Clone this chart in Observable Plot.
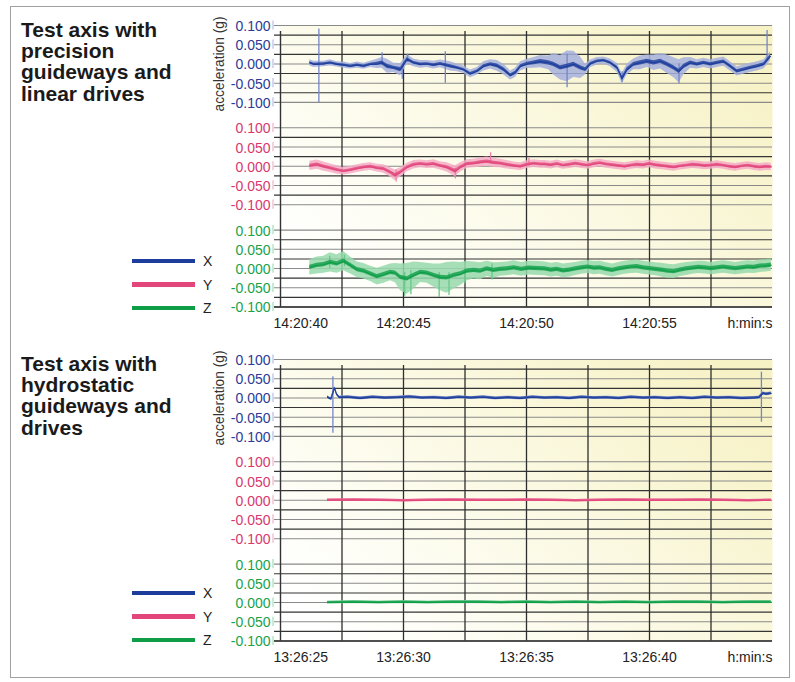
<!DOCTYPE html>
<html>
<head>
<meta charset="utf-8">
<script src="https://cdn.jsdelivr.net/npm/d3@7"></script>
<script src="https://cdn.jsdelivr.net/npm/@observablehq/plot@0.6"></script>
<style>
  body { margin: 0; background: #fff; font-family: "Liberation Sans", Arial, Helvetica, sans-serif; }
  #root { position: relative; width: 795px; height: 682px; overflow: hidden; background: #fff; }
  .outer { position: absolute; left: 10px; top: 6px; width: 780px; height: 672px; border: 1px solid #a0a0a0; box-sizing: border-box; }
  .title { position: absolute; left: 21px; font-weight: bold; font-size: 21px; line-height: 21.3px; color: #1a1a1a; white-space: nowrap; }
  .panel { position: absolute; left: 0; }
  .swatch { position: absolute; left: 132px; width: 63px; height: 4.3px; }
  .leglab { position: absolute; left: 203px; font-size: 14px; color: #222; line-height: 14px; }
</style>
</head>
<body>
<div id="root"><div class="outer"></div></div>
<script>
// ---------- labels & styling data ----------
const seriesNames = ["X", "Y", "Z"];
const darkColors = ["#1c3d9b", "#e2467b", "#0f9e48"];
const lightColors = ["#a6b0dd", "#f4abc5", "#97d9ac"];
const spikeColors = ["#7486ca", "#ec7fa6", "#66c888"];
const labelColors = ["#2b3b96", "#d8386e", "#18a24a"];
const labelLight = ["#b7bfe3", "#f1b3c8", "#a5dcb6"];
const yTicks = [0.1, 0.05, 0, -0.05, -0.1];
const yGrid = [0.1, 0.075, 0.05, 0.025, 0, -0.025, -0.05, -0.075, -0.1];
const xGrid = [2.5, 5, 7.5, 10, 12.5, 15, 17.5];
const timeLabelSeconds = [0, 5, 10, 15];
const topTimeLabels = ["14:20:40", "14:20:45", "14:20:50", "14:20:55"];
const bottomTimeLabels = ["13:26:25", "13:26:30", "13:26:35", "13:26:40"];
const unitLabel = "h:min:s";
const yAxisLabel = "acceleration (g)";
const topTitle = ["Test axis with", "precision", "guideways and", "linear drives"];
const bottomTitle = ["Test axis with", "hydrostatic", "guideways and", "drives"];

// ---------- series: [seconds after first label, mean (g), noise half-width (g)] ----------
const topX = [
  [1.19,0.003,0.008],[1.36,-0.001,0.008],[1.76,0.000,0.007],[2.03,0.003,0.008],[2.30,-0.001,0.007],
  [2.57,-0.003,0.008],[2.85,-0.006,0.007],[3.12,-0.003,0.008],[3.39,-0.006,0.008],[3.66,-0.001,0.008],
  [3.93,0.000,0.012],[4.13,0.003,0.014],[4.34,-0.006,0.018],[4.61,-0.010,0.012],[4.88,-0.015,0.016],
  [5.15,0.012,0.012],[5.42,0.003,0.010],[5.69,-0.001,0.010],[5.96,0.000,0.009],[6.23,-0.003,0.010],
  [6.50,0.000,0.010],[6.91,-0.006,0.012],[7.18,-0.010,0.010],[7.45,-0.015,0.010],[7.72,-0.026,0.010],
  [8.00,-0.019,0.010],[8.26,-0.006,0.012],[8.54,-0.001,0.012],[8.81,-0.005,0.014],[9.08,-0.015,0.014],
  [9.35,-0.030,0.012],[9.55,-0.023,0.012],[9.76,-0.006,0.012],[10.03,0.000,0.012],[10.30,0.003,0.014],
  [10.57,0.006,0.016],[10.90,0.003,0.018],[11.10,-0.001,0.028],[11.38,-0.010,0.032],[11.65,-0.006,0.040],
  [11.92,-0.001,0.034],[12.20,-0.010,0.028],[12.40,-0.015,0.014],[12.60,0.000,0.010],[12.87,0.007,0.010],
  [13.14,0.009,0.009],[13.41,0.003,0.010],[13.69,-0.010,0.012],[13.89,-0.038,0.014],[14.09,-0.015,0.014],
  [14.36,-0.001,0.014],[14.63,0.003,0.018],[14.90,0.007,0.016],[15.18,0.003,0.020],[15.45,0.007,0.020],
  [15.72,-0.001,0.024],[15.99,-0.010,0.026],[16.20,-0.019,0.030],[16.40,-0.006,0.022],[16.67,0.003,0.014],
  [16.94,-0.001,0.012],[17.21,0.003,0.012],[17.48,-0.001,0.012],[17.75,0.003,0.012],[18.02,0.006,0.012],
  [18.29,-0.006,0.012],[18.56,-0.019,0.012],[18.83,-0.015,0.012],[19.10,-0.010,0.012],[19.38,-0.006,0.012],
  [19.65,-0.001,0.012],[19.92,0.020,0.012]
];
const topY = [
  [1.19,0.001,0.012],[1.49,0.004,0.012],[1.76,-0.001,0.012],[2.03,-0.005,0.011],[2.30,-0.010,0.011],
  [2.57,-0.013,0.010],[2.85,-0.010,0.010],[3.12,-0.006,0.010],[3.39,-0.003,0.010],[3.66,-0.001,0.010],
  [3.93,-0.005,0.010],[4.20,-0.007,0.011],[4.47,-0.016,0.012],[4.67,-0.024,0.014],[4.88,-0.016,0.012],
  [5.15,-0.003,0.011],[5.42,0.004,0.011],[5.69,0.006,0.010],[5.96,0.004,0.010],[6.23,0.006,0.011],
  [6.50,0.001,0.011],[6.77,-0.003,0.012],[7.11,-0.013,0.014],[7.32,-0.003,0.012],[7.59,0.006,0.011],
  [7.86,0.007,0.011],[8.13,0.010,0.012],[8.40,0.012,0.012],[8.67,0.009,0.012],[8.94,0.007,0.011],
  [9.20,0.004,0.011],[9.48,0.001,0.010],[9.76,-0.001,0.010],[10.03,0.004,0.010],[10.30,0.007,0.010],
  [10.57,0.005,0.010],[10.75,0.005,0.010],[11.00,0.003,0.010],[11.25,0.006,0.010],[11.50,0.002,0.010],
  [11.75,0.004,0.010],[12.00,0.007,0.010],[12.25,0.004,0.010],[12.50,0.002,0.010],[12.75,0.006,0.010],
  [13.00,0.008,0.010],[13.25,0.005,0.010],[13.50,0.003,0.010],[13.75,0.001,0.010],[14.00,-0.001,0.010],
  [14.25,0.002,0.010],[14.50,0.004,0.010],[14.75,0.003,0.010],[15.00,0.006,0.010],[15.25,0.003,0.010],
  [15.50,0.001,0.010],[15.75,-0.001,0.010],[16.00,-0.003,0.010],[16.25,0.000,0.010],[16.50,0.002,0.010],
  [16.75,0.004,0.010],[17.00,0.003,0.010],[17.25,0.001,0.010],[17.50,0.002,0.010],[17.75,0.004,0.010],
  [18.00,0.002,0.010],[18.25,-0.001,0.010],[18.50,-0.003,0.010],[18.75,0.000,0.010],[19.00,0.002,0.010],
  [19.25,-0.001,0.010],[19.50,-0.003,0.010],[19.75,-0.001,0.010],[19.95,-0.002,0.010]
];
const topZ = [
  [1.19,0.003,0.020],[1.49,0.008,0.022],[1.76,0.010,0.022],[2.03,0.016,0.025],[2.30,0.012,0.024],
  [2.57,0.019,0.025],[2.85,0.008,0.022],[3.12,-0.003,0.020],[3.39,-0.007,0.020],[3.66,-0.014,0.020],
  [3.93,-0.021,0.022],[4.20,-0.016,0.022],[4.47,-0.010,0.022],[4.67,-0.012,0.025],[4.88,-0.023,0.035],
  [5.15,-0.027,0.040],[5.42,-0.018,0.035],[5.69,-0.010,0.026],[5.96,-0.012,0.026],[6.23,-0.018,0.030],
  [6.50,-0.023,0.035],[6.77,-0.024,0.040],[7.05,-0.018,0.035],[7.32,-0.014,0.030],[7.59,-0.007,0.025],
  [7.86,-0.005,0.022],[8.13,-0.007,0.022],[8.40,-0.001,0.020],[8.67,-0.005,0.020],[8.94,-0.002,0.018],
  [9.20,-0.001,0.018],[9.50,0.002,0.018],[9.80,-0.002,0.018],[10.10,0.001,0.018],[10.50,0.000,0.018],
  [10.75,-0.001,0.018],[11.00,-0.004,0.018],[11.25,-0.002,0.018],[11.50,-0.006,0.018],[11.75,-0.004,0.018],
  [12.00,-0.001,0.017],[12.25,0.002,0.017],[12.50,0.004,0.017],[12.75,0.001,0.017],[13.00,0.002,0.017],
  [13.25,-0.002,0.017],[13.50,-0.005,0.017],[13.75,-0.001,0.017],[14.00,0.002,0.017],[14.25,0.004,0.017],
  [14.50,0.005,0.017],[14.75,0.002,0.017],[15.00,0.000,0.017],[15.25,-0.002,0.017],[15.50,-0.004,0.018],
  [15.75,-0.007,0.018],[16.00,-0.008,0.018],[16.25,-0.004,0.017],[16.50,-0.001,0.017],[16.75,0.001,0.016],
  [17.00,0.003,0.016],[17.25,0.002,0.016],[17.50,0.000,0.016],[17.75,0.002,0.016],[18.00,0.004,0.016],
  [18.25,0.002,0.016],[18.50,0.000,0.016],[18.75,0.002,0.016],[19.00,0.004,0.016],[19.25,0.003,0.016],
  [19.50,0.006,0.016],[19.75,0.007,0.016],[19.95,0.009,0.016]
];
const bottomX = [
  [1.91,0.002,0.003],[2.05,-0.003,0.003],[2.20,0.026,0.003],[2.28,0.010,0.003],[2.40,0.001,0.004],
  [2.75,0.002,0.004],[3.25,-0.001,0.004],[3.75,0.002,0.004],[4.25,0.000,0.004],[4.75,0.001,0.004],
  [5.25,0.003,0.004],[5.75,0.000,0.004],[6.25,0.001,0.004],[6.75,-0.001,0.004],[7.25,0.002,0.004],
  [7.75,0.000,0.004],[8.25,0.002,0.004],[8.75,-0.001,0.004],[9.25,0.001,0.004],[9.75,-0.001,0.004],
  [10.25,0.002,0.004],[10.75,0.000,0.004],[11.25,0.001,0.004],[11.75,-0.001,0.004],[12.25,0.002,0.004],
  [12.75,0.000,0.004],[13.25,0.001,0.004],[13.75,-0.001,0.004],[14.25,0.002,0.004],[14.75,0.000,0.004],
  [15.25,0.001,0.004],[15.75,-0.001,0.004],[16.25,0.001,0.004],[16.75,-0.001,0.004],[17.25,0.002,0.004],
  [17.75,0.000,0.004],[18.25,0.001,0.004],[18.75,-0.001,0.004],[19.25,0.000,0.004],[19.45,0.001,0.004],
  [19.62,0.012,0.004],[19.75,0.010,0.004],[19.95,0.012,0.004]
];
const bottomY = [
  [1.91,0.000,0.003],[3.00,0.001,0.003],[4.00,0.000,0.003],[5.00,-0.001,0.003],[6.00,0.000,0.003],
  [7.00,0.001,0.003],[8.00,0.000,0.003],[9.00,0.000,0.003],[10.00,0.001,0.003],[11.00,0.000,0.003],
  [12.00,-0.001,0.003],[13.00,0.000,0.003],[14.00,0.001,0.003],[15.00,0.000,0.003],[16.00,0.000,0.003],
  [17.00,0.001,0.003],[18.00,0.000,0.003],[19.00,-0.001,0.003],[19.95,0.000,0.003]
];
const bottomZ = [
  [1.91,0.000,0.004],[3.00,0.001,0.004],[4.00,0.000,0.004],[5.00,0.001,0.004],[6.00,0.000,0.004],
  [7.00,0.001,0.004],[8.00,0.001,0.004],[9.00,0.000,0.004],[10.00,0.001,0.004],[11.00,0.000,0.004],
  [12.00,0.001,0.004],[13.00,0.000,0.004],[14.00,0.001,0.004],[15.00,0.000,0.004],[16.00,0.001,0.004],
  [17.00,0.001,0.004],[18.00,0.000,0.004],[19.00,0.001,0.004],[19.95,0.001,0.004]
];

// ---------- isolated spikes: [seconds, min (g), max (g)] ----------
const topXSpikes = [[1.56,-0.100,0.091],[4.13,-0.004,0.029],[4.95,-0.040,-0.008],[5.17,0.004,0.025],
  [6.70,-0.050,0.032],[11.65,-0.062,0.025],[13.89,-0.048,-0.020],[16.20,-0.052,0.000],[19.78,0.010,0.087]];
const topYSpikes = [[4.70,-0.041,-0.010],[7.11,-0.033,-0.005],[8.54,0.008,0.035],[10.10,0.000,0.020]];
const topZSpikes = [[2.00,0.000,0.032],[2.60,0.005,0.035],[5.05,-0.072,-0.010],[5.30,-0.068,-0.005],
  [6.45,-0.075,-0.010],[6.85,-0.070,-0.010],[7.50,-0.040,0.000],[8.60,-0.030,0.012]];
const bottomXSpikes = [[2.13,-0.092,0.055],[19.55,-0.063,0.067]];
const bottomYSpikes = [];
const bottomZSpikes = [];

// ---------- drawing ----------
const OFF = 0.266;               // vertical spacing between the three stacked strips (in g units)
const fmt = v => d3.format(".3f")(v).replace("\u2212", "-");
const FONT = "'Liberation Sans', Arial, Helvetica, sans-serif";
const root = document.getElementById("root");

function buildPanel(id, series, spikes, timeLabels, top, height) {
  const offsets = [2 * OFF, OFF, 0];
  const yTop = 0.1 + 2 * OFF;
  const marks = [];
  marks.push(Plot.frame({fill: `url(#${id})`, stroke: "none"}));

  const grid = [];
  offsets.forEach(o => yGrid.forEach(g => grid.push({v: g + o, major: yTicks.includes(g)})));
  marks.push(Plot.ruleY(grid.filter(d => d.major), {y: "v", stroke: "#8a8a8a", strokeWidth: 1.1, insetLeft: -6}));
  marks.push(Plot.ruleY(grid.filter(d => !d.major), {y: "v", stroke: "#353535", strokeWidth: 1.1, insetLeft: -6}));
  marks.push(Plot.ruleX(xGrid, {y1: -0.1, y2: yTop, stroke: "#2e2e2e", strokeWidth: 1.3, insetBottom: -6}));
  marks.push(Plot.ruleX([0], {y1: -0.1, y2: yTop, stroke: "#333", strokeWidth: 1.4, insetBottom: -6}));
  marks.push(Plot.ruleY([-0.1], {stroke: "#2a2a2a", strokeWidth: 1.3, insetLeft: -6}));

  series.forEach((s, k) => {
    const o = offsets[k];
    const rows = s.map(([t, m, w]) => {
      const c = Math.min(0.0055, Math.max(0.003, 0.35 * w));
      return {t, m: m + o, lo: m - w + o, hi: m + w + o, lo2: m - c + o, hi2: m + c + o};
    });
    marks.push(Plot.areaY(rows, {x: "t", y1: "lo", y2: "hi", fill: lightColors[k], fillOpacity: 0.85}));
    marks.push(Plot.ruleX(spikes[k], {x: d => d[0], y1: d => d[1] + o, y2: d => d[2] + o, stroke: spikeColors[k], strokeWidth: 1.3}));
    marks.push(Plot.areaY(rows, {x: "t", y1: "lo2", y2: "hi2", fill: darkColors[k], fillOpacity: 0.8}));
    marks.push(Plot.line(rows, {x: "t", y: "m", stroke: darkColors[k], strokeWidth: 1.1}));

    marks.push(Plot.ruleX(yTicks, {x: 0, y1: d => d + o - 0.012, y2: d => d + o + 0.012, dx: -7.5, stroke: labelLight[k], strokeWidth: 1.2}));
    marks.push(Plot.text(yTicks, {x: 0, y: d => d + o, text: d => fmt(d), textAnchor: "end", dx: -10, dy: 1, fill: labelColors[k], fontSize: 14}));
  });

  marks.push(Plot.text([yAxisLabel], {x: 0, y: 2 * OFF, text: d => d, rotate: -90, dx: -60.5, fill: "#333", fontSize: 13.8}));

  const xl = timeLabels.map((s, i) => ({t: timeLabelSeconds[i], s}));
  marks.push(Plot.text(xl.slice(0, 1), {x: "t", y: -0.1, text: "s", textAnchor: "start", dx: -7, dy: 16.5, fill: "#222", fontSize: 14}));
  marks.push(Plot.text(xl.slice(1), {x: "t", y: -0.1, text: "s", dy: 16.5, fill: "#222", fontSize: 14}));
  marks.push(Plot.text([unitLabel], {x: 20, y: -0.1, text: d => d, textAnchor: "end", dy: 16.5, fill: "#222", fontSize: 14}));

  const svg = Plot.plot({
    width: 795, height,
    marginLeft: 280, marginRight: 23, marginTop: 25, marginBottom: height - 306.5,
    x: {domain: [0, 20], axis: null},
    y: {domain: [-0.1, yTop], axis: null},
    style: {fontFamily: FONT, background: "transparent", overflow: "visible"},
    marks
  });
  const defs = d3.select(svg).insert("defs", ":first-child");
  const lg = defs.append("linearGradient").attr("id", id)
    .attr("x1", 0).attr("y1", 0.8).attr("x2", 1).attr("y2", 0.2);
  lg.append("stop").attr("offset", 0).attr("stop-color", "#ffffff");
  lg.append("stop").attr("offset", 0.4).attr("stop-color", "#fcfbea");
  lg.append("stop").attr("offset", 1).attr("stop-color", "#f7f2c6");
  svg.classList.add("panel");
  svg.style.top = top + "px";
  root.appendChild(svg);
}

function addTitle(lines, top) {
  const d = document.createElement("div");
  d.className = "title";
  d.style.top = top + "px";
  d.innerHTML = lines.map(l => `<div>${l}</div>`).join("");
  root.appendChild(d);
}

function addLegend(top) {
  const ys = [0, 23.5, 47];
  seriesNames.forEach((n, k) => {
    const sw = document.createElement("div");
    sw.className = "swatch";
    sw.style.top = (top + ys[k] - 2.15) + "px";
    sw.style.background = darkColors[k];
    root.appendChild(sw);
    const lb = document.createElement("div");
    lb.className = "leglab";
    lb.style.top = (top + ys[k] - 7) + "px";
    lb.textContent = n;
    root.appendChild(lb);
  });
}

buildPanel("bgTop", [topX, topY, topZ], [topXSpikes, topYSpikes, topZSpikes], topTimeLabels, 0, 334);
buildPanel("bgBottom", [bottomX, bottomY, bottomZ], [bottomXSpikes, bottomYSpikes, bottomZSpikes], bottomTimeLabels, 334, 348);
addTitle(topTitle, 18.8);
addTitle(bottomTitle, 352.8);
addLegend(261);
addLegend(593);
</script>
</body>
</html>
